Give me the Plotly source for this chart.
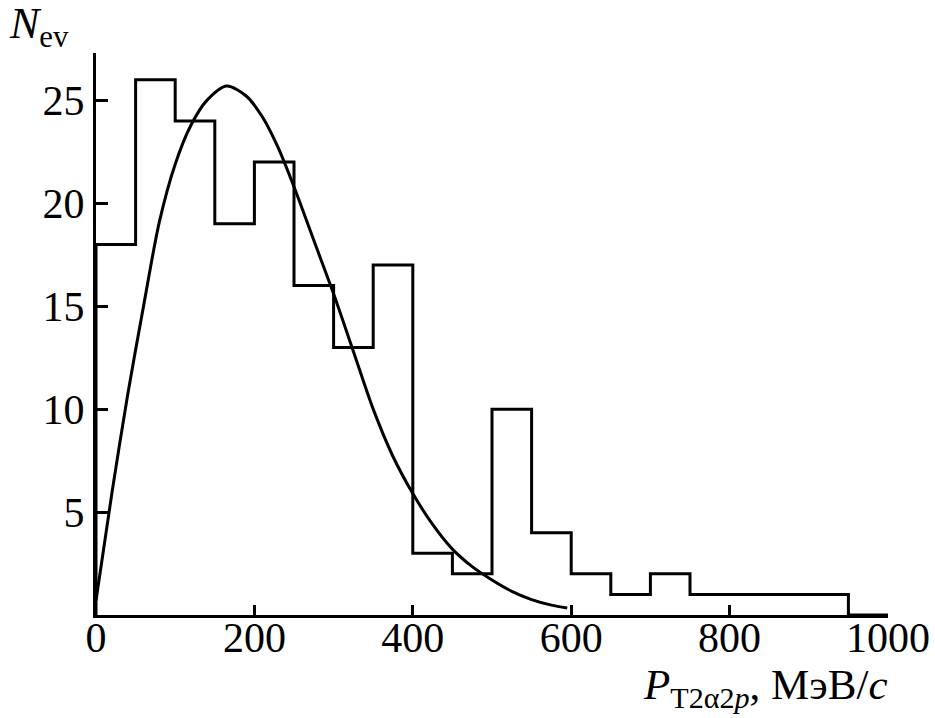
import plotly.graph_objects as go

# Histogram: bin edges (MeV/c) and event counts per 50 MeV/c bin
bin_edges = [0, 50, 100, 150, 200, 250, 300, 350, 400, 450, 500,
             550, 600, 650, 700, 750, 800, 850, 900, 950, 1000]
counts = [18, 26, 24, 19, 22, 16, 13, 17, 3, 2,
          10, 4, 2, 1, 2, 1, 1, 1, 1, 0]

# Fitted distribution curve (sampled points)
fit_p = [0, 20, 40, 60, 80, 100, 120, 140, 165, 190, 210, 230, 250, 275,
         300, 325, 350, 375, 400, 425, 450, 475, 500, 525, 550, 575, 595]
fit_n = [0.7, 5.9, 10.7, 15.0, 19.1, 21.9, 23.8, 25.0, 25.7, 25.2, 24.2, 22.7,
         20.8, 18.2, 15.6, 12.8, 10.0, 7.7, 5.9, 4.4, 3.2, 2.35, 1.7, 1.15,
         0.75, 0.48, 0.34]

x_ticks = [0, 200, 400, 600, 800, 1000]
y_ticks = [5, 10, 15, 20, 25]

FONT = "Liberation Serif, Times New Roman, serif"

step_x = [bin_edges[0]] + bin_edges
step_y = [0] + counts + [counts[-1]]

fig = go.Figure()
fig.add_trace(go.Scatter(
    x=step_x, y=step_y, mode="lines",
    line=dict(shape="hv", color="black", width=3),
    cliponaxis=False, hoverinfo="skip"))
fig.add_trace(go.Scatter(
    x=fit_p, y=fit_n, mode="lines",
    line=dict(shape="spline", smoothing=0.8, color="black", width=3),
    cliponaxis=False, hoverinfo="skip"))

fig.update_layout(
    width=935, height=718,
    margin=dict(l=96, r=47, t=53, b=103, autoexpand=False),
    paper_bgcolor="white", plot_bgcolor="white",
    showlegend=False,
    font=dict(family=FONT, size=42, color="black"),
    xaxis=dict(range=[0, 1000], tickvals=x_ticks, ticks="inside",
               ticklen=10, tickwidth=3, tickcolor="black",
               showline=True, linewidth=3, linecolor="black",
               showgrid=False, zeroline=False, automargin=False,
               ticklabelstandoff=-16,
               tickfont=dict(family=FONT, size=42)),
    yaxis=dict(range=[0, 27.3], tickvals=y_ticks, ticks="inside",
               ticklen=12, tickwidth=3, tickcolor="black",
               showline=True, linewidth=3, linecolor="black",
               showgrid=False, zeroline=False, automargin=False,
               tickfont=dict(family=FONT, size=42)),
    annotations=[
        dict(xref="paper", yref="paper", x=-0.112, y=1.1,
             xanchor="left", yanchor="top", showarrow=False,
             text="<i>N</i><sub>ev</sub>",
             font=dict(family=FONT, size=44)),
        dict(xref="paper", yref="paper", x=1.003, y=-0.078,
             xanchor="right", yanchor="top", showarrow=False,
             text="<i>P</i><sub>T2α2<i>p</i></sub>, MэB/<i>c</i>",
             font=dict(family=FONT, size=43)),
    ],
)

fig.write_html("out.html")
